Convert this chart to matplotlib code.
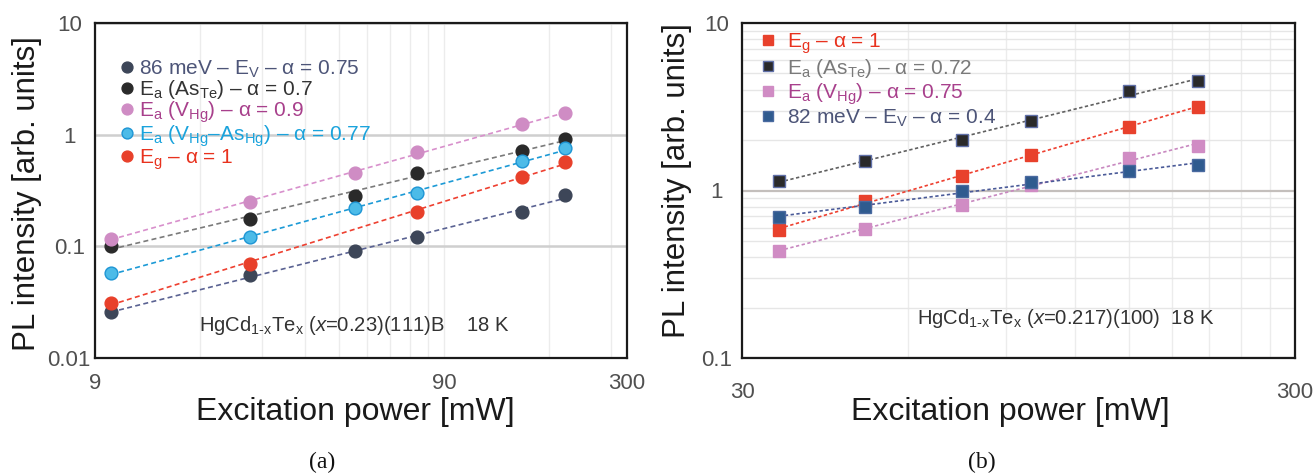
import numpy as np
import matplotlib
matplotlib.use('Agg')
import matplotlib.pyplot as plt
from matplotlib.ticker import FixedLocator, FixedFormatter, NullFormatter

plt.rcParams['font.family'] = ['Liberation Sans', 'DejaVu Sans']
plt.rcParams['mathtext.fontset'] = 'custom'
plt.rcParams['mathtext.rm'] = 'Liberation Sans'
plt.rcParams['mathtext.it'] = 'Liberation Sans:italic'
plt.rcParams['mathtext.bf'] = 'Liberation Sans:bold'

# ---------------- data: panel (a) ----------------
power_a = [10, 25, 50, 75, 150, 200]
ev86_a = [0.0256, 0.055, 0.091, 0.120, 0.204, 0.288]
asTe_a = [0.101, 0.175, 0.284, 0.451, 0.718, 0.914]
vHg_a = [0.117, 0.251, 0.451, 0.698, 1.236, 1.57]
vHgAs_a = [0.058, 0.120, 0.219, 0.298, 0.577, 0.754]
power_eg_a = [10, 25, 75, 150, 200]
eg_a = [0.0313, 0.0695, 0.203, 0.420, 0.565]
labels_a = [
    '86 meV – E$_\\mathregular{V}$ – α = 0.75',
    'E$_\\mathregular{a}$ (As$_\\mathregular{Te}$) – α = 0.7',
    'E$_\\mathregular{a}$ (V$_\\mathregular{Hg}$) – α = 0.9',
    'E$_\\mathregular{a}$ (V$_\\mathregular{Hg}$–As$_\\mathregular{Hg}$) – α = 0.77',
    'E$_\\mathregular{g}$ – α = 1',
]
xticks_a = [9, 90, 300]
xtick_labels_a = ['9', '90', '300']
xminor_a = [18, 27, 36, 45, 54, 63, 72, 81, 180, 270]
yticks_a = [0.01, 0.1, 1, 10]
ytick_labels_a = ['0.01', '0.1', '1', '10']
note_a = 'HgCd$_\\mathregular{1\\text{-}x}$Te$_\\mathregular{x}$ ($\\mathit{x}$=0.23)(111)B    18 K'

# ---------------- data: panel (b) ----------------
power_b = [35, 50, 75, 100, 150, 200]
eg_b = [0.58, 0.865, 1.225, 1.62, 2.40, 3.17]
asTe_b = [1.14, 1.50, 2.00, 2.61, 3.93, 4.50]
vHg_b = [0.438, 0.589, 0.819, 1.079, 1.556, 1.852]
ev82_b = [0.698, 0.794, 0.997, 1.12, 1.31, 1.42]
labels_b = [
    'E$_\\mathregular{g}$ – α = 1',
    'E$_\\mathregular{a}$ (As$_\\mathregular{Te}$) – α = 0.72',
    'E$_\\mathregular{a}$ (V$_\\mathregular{Hg}$) – α = 0.75',
    '82 meV – E$_\\mathregular{V}$ – α = 0.4',
]
xticks_b = [30, 300]
xtick_labels_b = ['30', '300']
xminor_b = [60, 90, 120, 150, 180, 210, 240, 270]
yticks_b = [0.1, 1, 10]
ytick_labels_b = ['0.1', '1', '10']
yminor_b = [0.2, 0.3, 0.4, 0.5, 0.6, 0.7, 0.8, 0.9, 2, 3, 4, 5, 6, 7, 8, 9]
note_b = 'HgCd$_\\mathregular{1\\text{-}x}$Te$_\\mathregular{x}$ ($\\mathit{x}$=0.217)(100)  18 K'


def fit_line(ax, x, y, color, dashes, lw=1.2):
    lx, ly = np.log10(x), np.log10(y)
    k, b = np.polyfit(lx, ly, 1)
    xs = np.array([min(x), max(x)], dtype=float)
    ax.plot(xs, 10 ** (b + k * np.log10(xs)), color=color, lw=lw,
            dashes=dashes, zorder=2)


def style_axes(ax):
    ax.set_xscale('log')
    ax.set_yscale('log')
    for s in ax.spines.values():
        s.set_linewidth(1.6)
        s.set_color('#1a1a1a')
        s.set_zorder(5)
    ax.tick_params(which='both', length=0)
    ax.tick_params(axis='both', which='major', labelsize=16, labelcolor='#505050')
    ax.tick_params(axis='y', pad=18.5)
    ax.tick_params(axis='x', pad=11)


fig = plt.figure(figsize=(13.15, 4.75), dpi=100)
fig.patch.set_facecolor('white')
W, H = 1315.0, 475.0

# ================= panel (a) =================
ax = fig.add_axes([95 / W, 1 - 358 / H, 532 / W, 335 / H])
style_axes(ax)
ax.set_xlim(9, 300)
ax.set_ylim(0.01, 10)
ax.xaxis.set_major_locator(FixedLocator(xticks_a))
ax.xaxis.set_major_formatter(FixedFormatter(xtick_labels_a))
ax.xaxis.set_minor_locator(FixedLocator(xminor_a))
ax.xaxis.set_minor_formatter(NullFormatter())
ax.yaxis.set_major_locator(FixedLocator(yticks_a))
ax.yaxis.set_major_formatter(FixedFormatter(ytick_labels_a))
ax.yaxis.set_minor_locator(FixedLocator([]))
ax.grid(True, axis='x', which='both', color='#ececec', lw=1.0, zorder=0)
ax.grid(True, axis='y', which='major', color='#cfcfcf', lw=1.8, zorder=0)
ax.set_axisbelow(True)
for lab in ax.get_yticklabels():
    lab.set_ha('center')

fit_line(ax, power_a, ev86_a, '#5a6292', (3, 2))
fit_line(ax, power_a, asTe_a, '#7a7a7a', (3, 2))
fit_line(ax, power_a, vHg_a, '#d890cc', (3, 2))
fit_line(ax, power_a, vHgAs_a, '#1c9ad6', (3, 2))
fit_line(ax, power_eg_a, eg_a, '#ee4030', (3, 2))

ms = 9.2
h1, = ax.plot(power_a, ev86_a, 'o', ms=ms, color='#3d4658', mec='#3d4658', zorder=3)
h2, = ax.plot(power_a, asTe_a, 'o', ms=ms, color='#2a2a2a', mec='#2a2a2a', zorder=3)
h3, = ax.plot(power_a, vHg_a, 'o', ms=ms, color='#cf8cc4', mec='#cf8cc4', zorder=3)
h4, = ax.plot(power_a, vHgAs_a, 'o', ms=ms, color='#4cbbe8', mec='#1e95d4', mew=1.0, zorder=3)
h5, = ax.plot(power_eg_a, eg_a, 'o', ms=ms, color='#e8402a', mec='#e8402a', zorder=3)

ax.legend([h1, h2, h3, h4, h5], labels_a, loc='upper left',
          bbox_to_anchor=(0.044, 0.894), frameon=False, fontsize=15,
          handlelength=0.8, handletextpad=0.2, labelspacing=-0.08,
          borderpad=0, borderaxespad=0, markerscale=0.85,
          labelcolor=['#4d5578', '#333333', '#a8408c', '#1aa3dc', '#e8321e'])

ax.text(0.1955, 0.0985, note_a, transform=ax.transAxes, fontsize=14.6,
        color='#333333', ha='left', va='center')

ax.set_xlabel('Excitation power [mW]', fontsize=23, color='#1a1a1a')
ax.xaxis.set_label_coords(0.489, -0.16)
ax.xaxis.label.set_va('center')
ax.set_ylabel('PL intensity [arb. units]', fontsize=22.5, color='#1a1a1a')
ax.yaxis.set_label_coords(-0.128, 0.491)
ax.yaxis.label.set_va('center')

# ================= panel (b) =================
bx = fig.add_axes([742 / W, 1 - 358 / H, 553 / W, 335 / H])
style_axes(bx)
bx.set_xlim(30, 300)
bx.set_ylim(0.1, 10)
bx.xaxis.set_major_locator(FixedLocator(xticks_b))
bx.xaxis.set_major_formatter(FixedFormatter(xtick_labels_b))
bx.xaxis.set_minor_locator(FixedLocator(xminor_b))
bx.xaxis.set_minor_formatter(NullFormatter())
bx.yaxis.set_major_locator(FixedLocator(yticks_b))
bx.yaxis.set_major_formatter(FixedFormatter(ytick_labels_b))
bx.yaxis.set_minor_locator(FixedLocator(yminor_b))
bx.yaxis.set_minor_formatter(NullFormatter())
bx.tick_params(axis='x', pad=17)
bx.grid(True, axis='x', which='both', color='#ececec', lw=1.0, zorder=0)
bx.grid(True, axis='y', which='minor', color='#e6e6e6', lw=1.0, zorder=0)
bx.grid(True, axis='y', which='major', color='#c4bfbc', lw=1.6, zorder=0)
bx.set_axisbelow(True)
for lab in bx.get_yticklabels():
    lab.set_ha('center')

fit_line(bx, power_b, eg_b, '#ee4030', (2, 1.5))
fit_line(bx, power_b, asTe_b, '#606060', (2, 1.5))
fit_line(bx, power_b, vHg_b, '#c888c0', (2, 1.5))
fit_line(bx, power_b, ev82_b, '#4a5a98', (2, 1.5))

ms = 9.0
g1, = bx.plot(power_b, eg_b, 's', ms=ms, color='#e8412c', mec='#e8412c', zorder=3)
g2, = bx.plot(power_b, asTe_b, 's', ms=ms, color='#2a2a2a', mec='#6070a8', mew=1.0, zorder=3)
g3, = bx.plot(power_b, vHg_b, 's', ms=ms, color='#d08cc4', mec='#d08cc4', zorder=3)
g4, = bx.plot(power_b, ev82_b, 's', ms=ms, color='#2f5b8f', mec='#4a6aa0', mew=1.0, zorder=3)

bx.legend([g1, g2, g3, g4], labels_b, loc='upper left',
          bbox_to_anchor=(0.032, 0.976), frameon=False, fontsize=15,
          handlelength=0.8, handletextpad=0.5, labelspacing=0.06,
          borderpad=0, borderaxespad=0, markerscale=0.85,
          labelcolor=['#e8321e', '#7a7a7a', '#a8408c', '#4d5578'])

bx.text(0.316, 0.119, note_b, transform=bx.transAxes, fontsize=14.6,
        color='#333333', ha='left', va='center')

bx.set_xlabel('Excitation power [mW]', fontsize=23, color='#1a1a1a')
bx.xaxis.set_label_coords(0.486, -0.16)
bx.xaxis.label.set_va('center')
bx.set_ylabel('PL intensity [arb. units]', fontsize=22.5, color='#1a1a1a')
bx.yaxis.set_label_coords(-0.1175, 0.531)
bx.yaxis.label.set_va('center')

# captions
fig.text(322 / W, 1 - 462 / H, '(a)', fontsize=17, family='Liberation Serif',
         ha='center', va='center', color='#111111')
fig.text(982 / W, 1 - 462 / H, '(b)', fontsize=17, family='Liberation Serif',
         ha='center', va='center', color='#111111')

fig.savefig('out.png', dpi=100, facecolor='white')
